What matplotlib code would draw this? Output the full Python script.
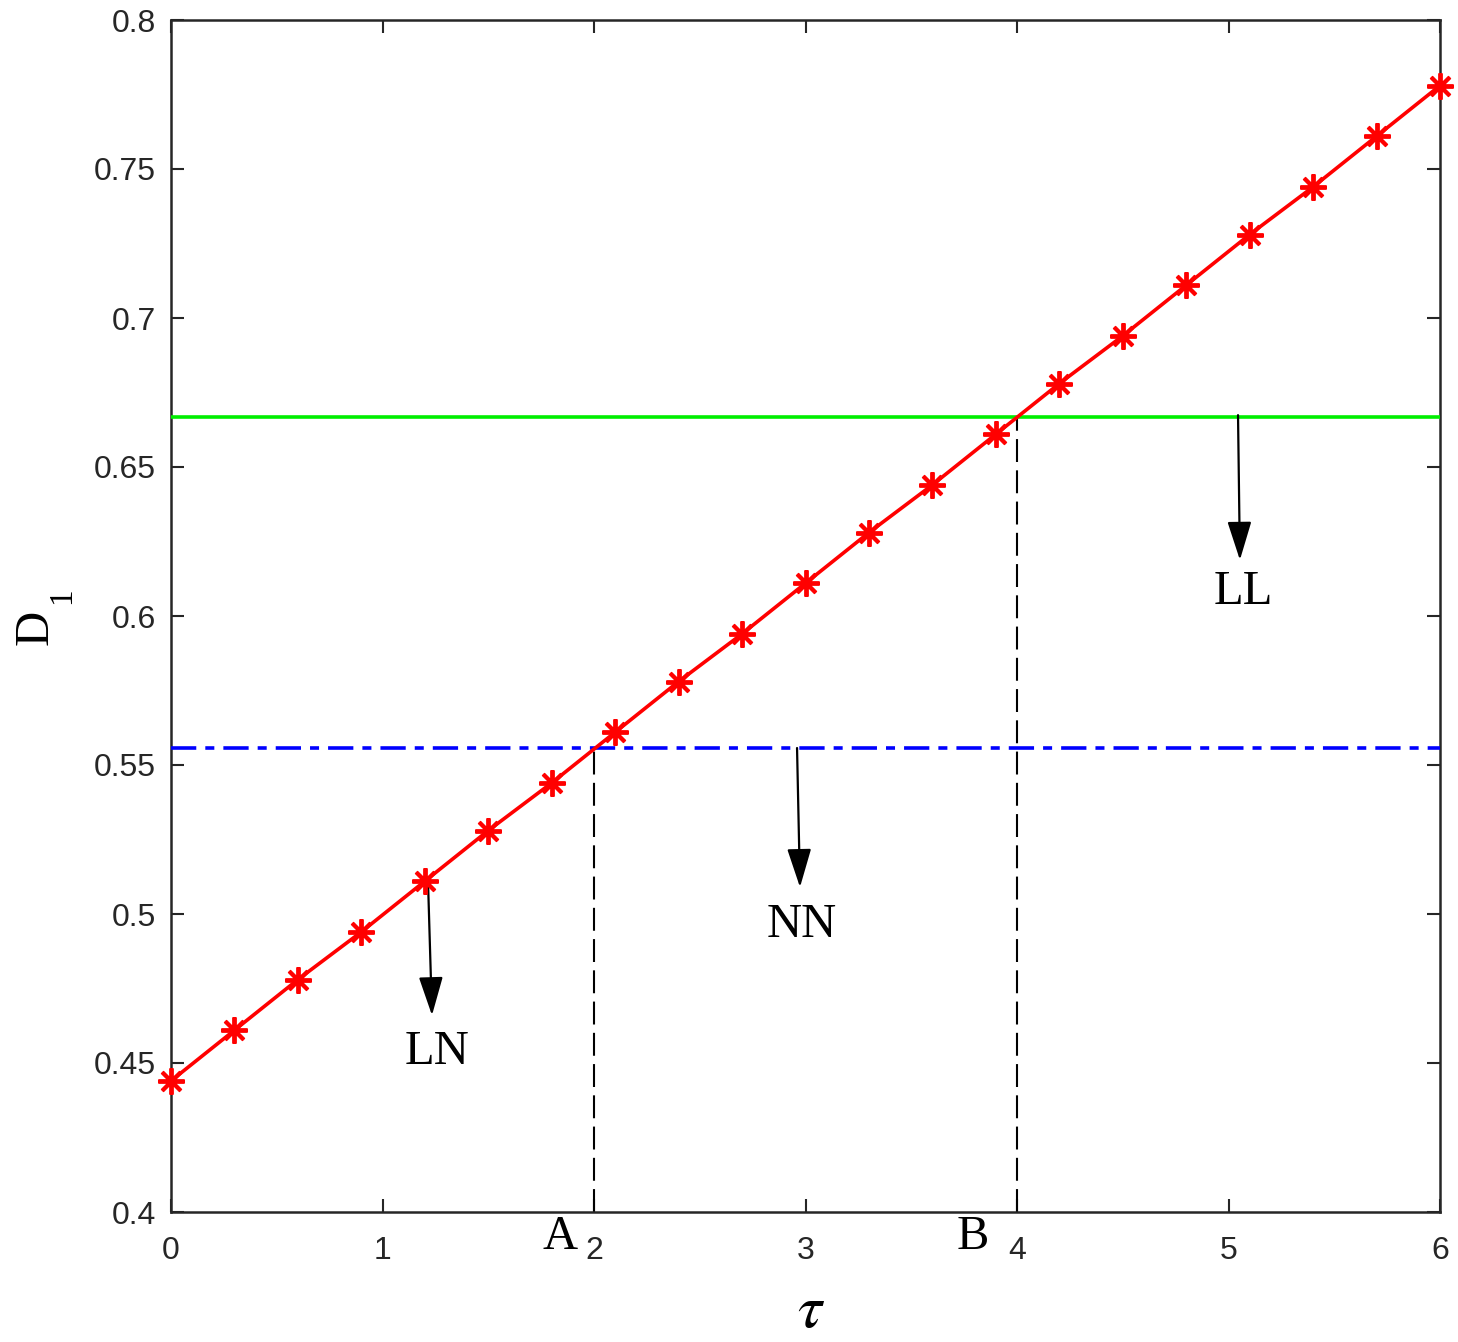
import numpy as np
from matplotlib import pyplot as plt

# data
tau = [0.0, 0.3, 0.6, 0.9, 1.2, 1.5, 1.8, 2.1, 2.4, 2.7, 3.0,
       3.3, 3.6, 3.9, 4.2, 4.5, 4.8, 5.1, 5.4, 5.7, 6.0]
d1 = [0.444, 0.461, 0.478, 0.494, 0.511, 0.528, 0.544, 0.561, 0.578, 0.594, 0.611,
      0.628, 0.644, 0.661, 0.678, 0.694, 0.711, 0.728, 0.744, 0.761, 0.778]
nn_level = 0.5556   # blue line
ll_level = 0.6667   # green line
tau_A = 2.0
tau_B = 4.0

plt.rcParams['mathtext.fontset'] = 'stix'
plt.rcParams['font.family'] = 'Liberation Sans'

W, H = 1458, 1342
fig = plt.figure(figsize=(W/100, H/100), dpi=100)
ax = fig.add_axes([171/W, 1-1212/H, 1269/W, 1192/H])

ax.plot(tau, d1, color='red', linewidth=2.6, marker=(8, 2, 0), markersize=19,
        markeredgewidth=2.8, zorder=4, clip_on=False)
ax.axhline(ll_level, color='#00ee00', linewidth=2.6, zorder=3)
ax.axhline(nn_level, color='blue', linewidth=2.6, dashes=(7, 2.5, 2.5, 2.5), zorder=3)
ax.plot([tau_A, tau_A], [0.4, nn_level], color='black', linewidth=1.5, dashes=(11, 4), zorder=2)
ax.plot([tau_B, tau_B], [0.4, ll_level], color='black', linewidth=1.5, dashes=(11, 4), zorder=2)

arrow = dict(arrowstyle='-|>,head_length=0.8,head_width=0.25', color='black', lw=1.6,
             shrinkA=0, shrinkB=0, mutation_scale=30)
ax.annotate('', xy=(1.234, 0.466), xytext=(1.215, 0.5114), arrowprops=arrow)
ax.annotate('', xy=(2.974, 0.509), xytext=(2.96, 0.5557), arrowprops=arrow)
ax.annotate('', xy=(5.054, 0.6188), xytext=(5.045, 0.6674), arrowprops=arrow)

serif = dict(family='Liberation Serif', fontsize=35, ha='center', va='center')
ax.text(1.258, 0.4537, 'LN', **serif)
ax.text(2.98, 0.4963, 'NN', **serif)
ax.text(5.068, 0.608, 'LL', **serif)
ax.text(1.84, 0.3916, 'A', clip_on=False, **serif)
ax.text(3.79, 0.3916, 'B', clip_on=False, **serif)

ax.set_xlim(0, 6)
ax.set_ylim(0.4, 0.8)
ax.set_xticks([0, 1, 2, 3, 4, 5, 6])
ax.set_yticks([0.4, 0.45, 0.5, 0.55, 0.6, 0.65, 0.7, 0.75, 0.8])
ax.set_yticklabels(['0.4', '0.45', '0.5', '0.55', '0.6', '0.65', '0.7', '0.75', '0.8'])
ax.tick_params(direction='in', length=9.5, width=1.5, labelsize=23, colors='#262626',
               top=True, right=True)
ax.tick_params(axis='x', pad=17)
ax.tick_params(axis='y', pad=11)
for s in ax.spines.values():
    s.set_linewidth(1.8)
    s.set_color('#262626')

ax.set_xlabel(r'$\tau$', fontsize=44)
ax.xaxis.label.set_va('center')
ax.xaxis.set_label_coords((811-171)/1269, (1212-1312)/1192)

# D with a deep subscript 1, as in the original
fig.text(36/W, 1-627/H, 'D', family='Liberation Serif', fontsize=35,
         rotation=90, ha='center', va='center')
fig.text(62/W, 1-596/H, '1', family='Liberation Serif', fontsize=24,
         rotation=90, ha='center', va='center')

plt.savefig('out.png', dpi=100)
